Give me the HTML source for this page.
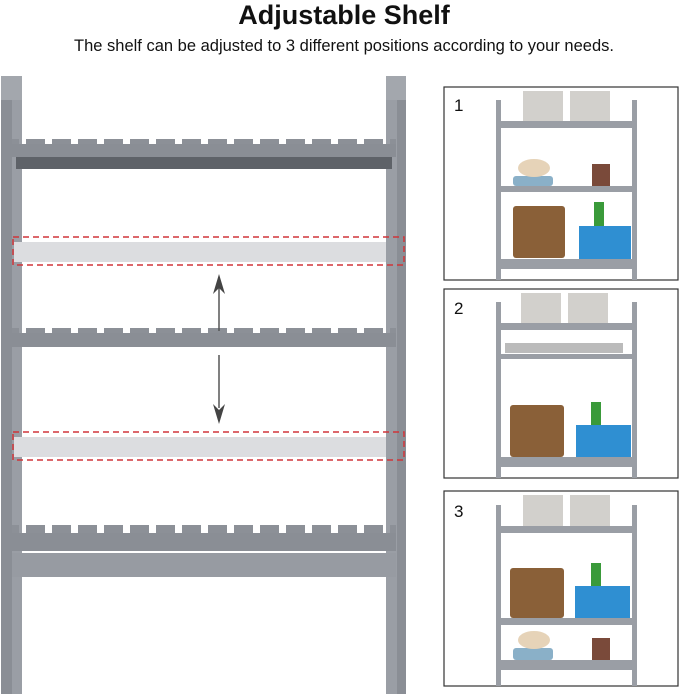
<!DOCTYPE html>
<html><head><style>
body{margin:0;width:679px;height:694px;background:#fff;overflow:hidden;font-family:"Liberation Sans",sans-serif}
</style></head><body>
<svg width="679" height="694" viewBox="0 0 679 694" xmlns="http://www.w3.org/2000/svg">
<text x="344" y="24" text-anchor="middle" font-family="Liberation Sans" font-weight="bold" font-size="27" fill="#111">Adjustable Shelf</text>
<text x="344" y="51" text-anchor="middle" font-family="Liberation Sans" font-size="16.5" fill="#111">The shelf can be adjusted to 3 different positions according to your needs.</text>
<defs>
<pattern id="slat" x="0" y="0" width="26" height="6" patternUnits="userSpaceOnUse"><rect x="0" y="0" width="19" height="6" fill="#8c9097"/></pattern>
</defs>
<!-- left shelf posts -->
<rect x="1" y="76" width="11" height="618" fill="#8a8e95"/>
<rect x="12" y="100" width="10" height="594" fill="#9a9ea5"/>
<rect x="1" y="76" width="21" height="24" fill="#a3a7ad"/>
<rect x="386" y="76" width="11" height="618" fill="#9a9ea5"/>
<rect x="397" y="76" width="9" height="618" fill="#8a8e95"/>
<rect x="386" y="76" width="20" height="24" fill="#a3a7ad"/>
<!-- top shelf -->
<rect x="12" y="139" width="384" height="6" fill="url(#slat)"/>
<rect x="12" y="144" width="384" height="13" fill="#8a8e95"/>
<rect x="16" y="157" width="376" height="12" fill="#5e6268"/>
<!-- middle shelf -->
<rect x="12" y="328" width="384" height="6" fill="url(#slat)"/>
<rect x="12" y="333" width="384" height="14" fill="#8a8e95"/>
<!-- ghost shelves -->
<rect x="14" y="242" width="372" height="20" fill="#dcdde0"/>
<rect x="13" y="237" width="391" height="28" fill="none" stroke="#d0353a" stroke-width="1.5" stroke-dasharray="6,4"/>
<rect x="14" y="437" width="372" height="20" fill="#dcdde0"/>
<rect x="13" y="432" width="391" height="28" fill="none" stroke="#d0353a" stroke-width="1.5" stroke-dasharray="6,4"/>
<!-- arrows -->
<line x1="219" y1="282" x2="219" y2="331" stroke="#555" stroke-width="1.5"/>
<path d="M213 294 L219 274 L225 294 L219 288Z" fill="#444"/>
<line x1="219" y1="355" x2="219" y2="408" stroke="#555" stroke-width="1.5"/>
<path d="M213 404 L219 424 L225 404 L219 410Z" fill="#444"/>
<!-- bottom shelf -->
<rect x="12" y="525" width="384" height="10" fill="url(#slat)"/>
<rect x="12" y="533" width="384" height="18" fill="#8a8e95"/>
<rect x="12" y="553" width="384" height="24" fill="#979ba2"/>
<!-- right panels -->
<g stroke="#333" stroke-width="1.2" fill="#fff">
<rect x="444" y="87" width="234" height="193"/>
<rect x="444" y="289" width="234" height="189"/>
<rect x="444" y="491" width="234" height="195"/>
</g>
<g font-family="Liberation Sans" font-size="17" fill="#111">
<text x="454" y="111">1</text><text x="454" y="314">2</text><text x="454" y="517">3</text>
</g>
<!-- panel 1 -->
<g fill="#9a9ea5">
<rect x="496" y="100" width="5" height="180"/><rect x="632" y="100" width="5" height="180"/>
<rect x="500" y="121" width="133" height="7"/><rect x="500" y="186" width="133" height="6"/><rect x="500" y="259" width="133" height="10"/>
<rect x="496" y="302" width="5" height="176"/><rect x="632" y="302" width="5" height="176"/>
<rect x="500" y="323" width="133" height="7"/><rect x="500" y="354" width="133" height="5"/><rect x="500" y="457" width="133" height="10"/>
<rect x="496" y="505" width="5" height="181"/><rect x="632" y="505" width="5" height="181"/>
<rect x="500" y="526" width="133" height="7"/><rect x="500" y="618" width="133" height="7"/><rect x="500" y="660" width="133" height="10"/>
</g>
<!-- boxes -->
<g fill="#d2d0cc">
<rect x="523" y="91" width="40" height="30"/><rect x="570" y="91" width="40" height="30"/>
<rect x="521" y="293" width="40" height="30"/><rect x="568" y="293" width="40" height="30"/>
<rect x="523" y="495" width="40" height="31"/><rect x="570" y="495" width="40" height="31"/>
</g>
<!-- baskets -->
<g fill="#8a6038">
<rect x="513" y="206" width="52" height="52" rx="3"/>
<rect x="510" y="405" width="54" height="52" rx="3"/>
<rect x="510" y="568" width="54" height="50" rx="3"/>
</g>
<g fill="#2f8fd2">
<rect x="579" y="226" width="52" height="33"/>
<rect x="576" y="425" width="55" height="32"/>
<rect x="575" y="586" width="55" height="32"/>
</g>
<g fill="#3a9a3a"><rect x="594" y="202" width="10" height="24"/><rect x="591" y="402" width="10" height="23"/><rect x="591" y="563" width="10" height="23"/></g>
<g fill="#8ab0c8"><rect x="513" y="176" width="40" height="10" rx="3"/><rect x="513" y="648" width="40" height="12" rx="3"/></g>
<g fill="#e6d3b8"><ellipse cx="534" cy="168" rx="16" ry="9"/><ellipse cx="534" cy="640" rx="16" ry="9"/></g>
<g fill="#7a4a3a"><rect x="592" y="164" width="18" height="22"/><rect x="592" y="638" width="18" height="22"/></g>
<g fill="#bbb"><rect x="505" y="343" width="118" height="10"/></g>
</svg>
</body></html>
